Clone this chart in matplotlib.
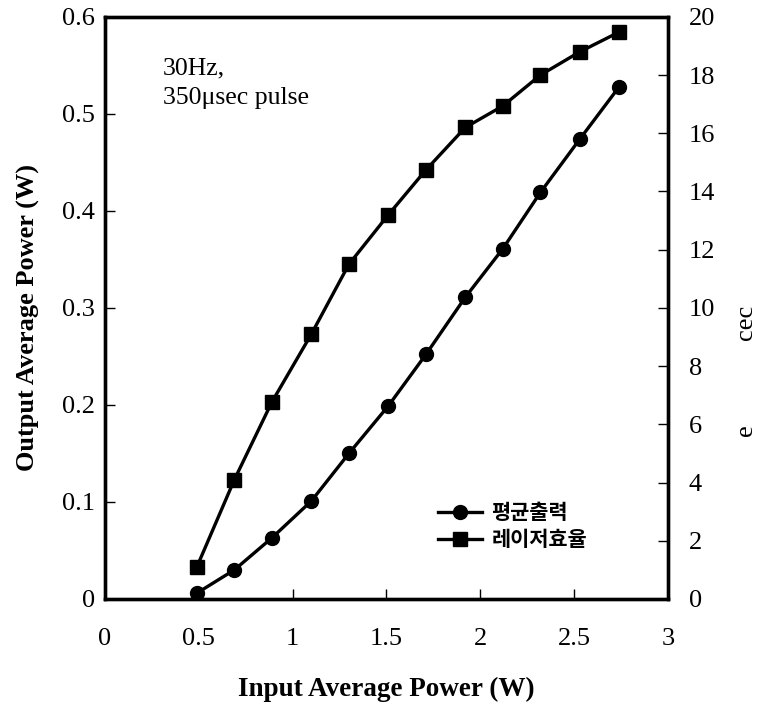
import numpy as np
import matplotlib.pyplot as plt

# input average power (W)
input_power = [0.49, 0.69, 0.89, 1.10, 1.30, 1.51, 1.71, 1.92, 2.12, 2.32, 2.53, 2.74]
# output average power (W) - circles, left axis
output_power = [0.006, 0.030, 0.063, 0.101, 0.150, 0.199, 0.252, 0.311, 0.361, 0.419, 0.474, 0.528]
# laser efficiency - squares, right axis
efficiency = [1.1, 4.1, 6.77, 9.1, 11.5, 13.2, 14.74, 16.2, 16.94, 18.0, 18.8, 19.48]

xticks = [0, 0.5, 1, 1.5, 2, 2.5, 3]
xticklabels = ['0', '0.5', '1', '1.5', '2', '2.5', '3']
yticks_left = [0, 0.1, 0.2, 0.3, 0.4, 0.5, 0.6]
yticklabels_left = ['0', '0.1', '0.2', '0.3', '0.4', '0.5', '0.6']
yticks_right = list(range(0, 21, 2))

serif = 'Liberation Serif'
kr = ['Noto Sans CJK KR', 'DejaVu Sans']

fig = plt.figure(figsize=(7.6, 7.03), dpi=100)
ax = fig.add_axes([0.138, 0.148, 0.741, 0.828])
ax2 = ax.twinx()

l1, = ax.plot(input_power, output_power, color='black', linewidth=2.4,
              marker='o', markersize=10, label='평균출력')
l2, = ax2.plot(input_power, efficiency, color='black', linewidth=2.4,
               marker='s', markersize=10, label='레이저효율')

ax.set_xlim(0, 3)
ax.set_ylim(0, 0.6)
ax2.set_ylim(0, 20)

ax.set_xticks(xticks)
ax.set_xticklabels(xticklabels, fontfamily=serif, fontsize=19)
ax.set_yticks(yticks_left)
ax.set_yticklabels(yticklabels_left, fontfamily=serif, fontsize=19)
ax2.set_yticks(yticks_right)
ax2.set_yticklabels([str(v) for v in yticks_right], fontfamily=serif, fontsize=19)

ax.tick_params(axis='x', direction='in', length=7, width=1, pad=21, top=False)
ax.tick_params(axis='y', direction='in', length=7, width=1, pad=7)
ax2.tick_params(axis='y', direction='in', length=7, width=1, pad=15)

for a in (ax, ax2):
    for s in a.spines.values():
        s.set_linewidth(2.4)

ax.set_xlabel('Input Average Power (W)', fontfamily=serif, fontsize=19.5,
              fontweight='bold', labelpad=19)
ax.set_ylabel('Output Average Power (W)', fontfamily=serif, fontsize=19,
              fontweight='bold', labelpad=16, y=0.483)

# garbled right-hand axis label as in the source
fig.text(0.982, 0.542, 'cec', rotation=90, fontfamily=serif, fontsize=19,
         ha='center', va='center')
fig.text(0.982, 0.388, 'e', rotation=90, fontfamily=serif, fontsize=19,
         ha='center', va='center')

ax.text(0.103, 0.93, '30Hz,\n350\u03bcsec pulse', transform=ax.transAxes,
        fontfamily=serif, fontsize=18.5, va='top', linespacing=1.45)

leg = ax.legend(handles=[l1, l2], loc='center left', bbox_to_anchor=(0.576, 0.125),
                borderaxespad=0, frameon=False,
                prop={'family': kr, 'size': 15, 'weight': 'bold'},
                handlelength=2.15, handletextpad=0.43, labelspacing=0.3)

fig.savefig('out.png', dpi=100)
